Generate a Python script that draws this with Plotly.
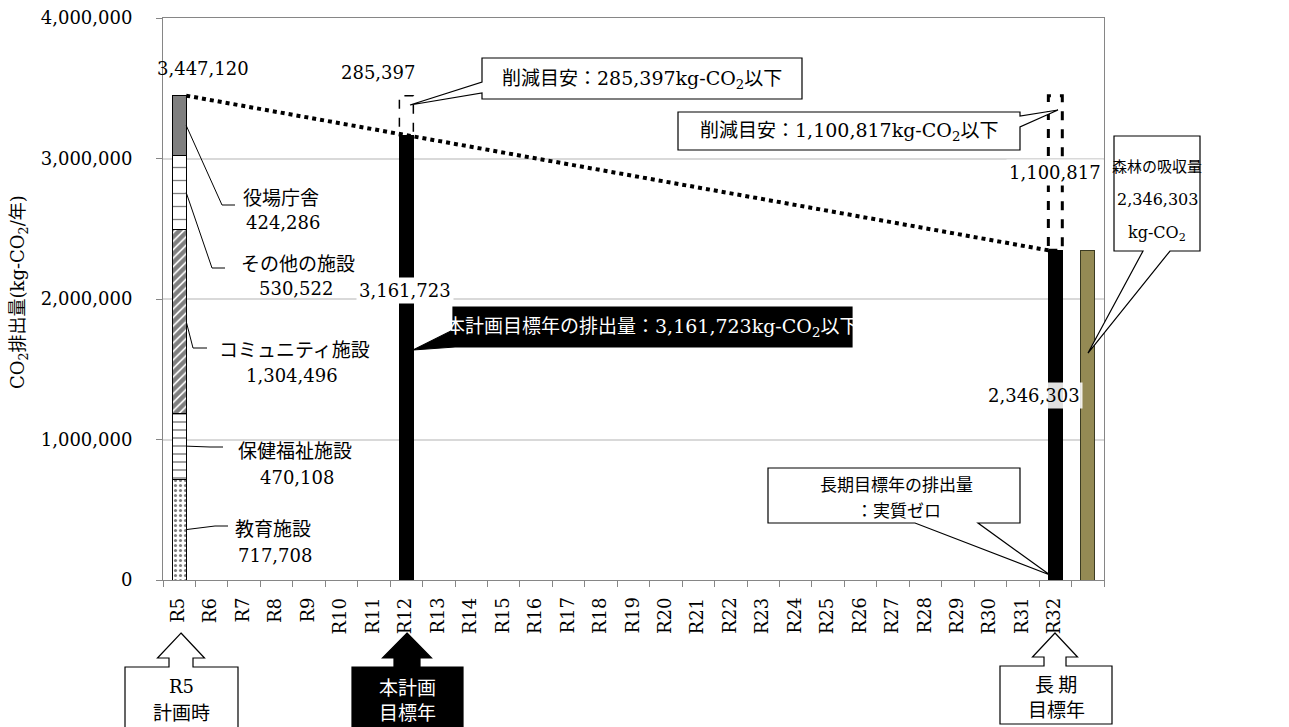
import plotly.graph_objects as go

# ---------------- data ----------------
categories = ["R5", "R6", "R7", "R8", "R9", "R10", "R11", "R12", "R13", "R14",
              "R15", "R16", "R17", "R18", "R19", "R20", "R21", "R22", "R23", "R24",
              "R25", "R26", "R27", "R28", "R29", "R30", "R31", "R32", " "]

facility_names = ["教育施設", "保健福祉施設", "コミュニティ施設", "その他の施設", "役場庁舎"]
facility_values = [717708, 470108, 1304496, 530522, 424286]
base_year = "R5"
base_total = 3447120

target_years = ["R12", "R32"]
target_values = [3161723, 2346303]
reduction_values = [285397, 1100817]

forest_category = " "
forest_value = 2346303

y_ticks = [0, 1000000, 2000000, 3000000, 4000000]
YMAX = 4000000

# ---------------- layout geometry (pixels) ----------------
W, H = 1289, 727
PL, PR, PT, PB = 163, 1104, 18, 580
NCAT = len(categories)
BAR_W = 0.43
HW = BAR_W / 2

NUM_FONT = "'DejaVu Serif', 'Noto Sans CJK JP', serif"
JP_FONT = "'Noto Sans CJK JP', 'DejaVu Serif', sans-serif"


def fx(px):
    return (px - PL) / (PR - PL)


def fy(py):
    return (PB - py) / (PB - PT)


def dx(px):
    return fx(px) * NCAT - 0.5


def dy(py):
    return fy(py) * YMAX


def fmt(v):
    return f"{v:,}"


fig = go.Figure()

patterns = [
    dict(shape=".", fgcolor="black", bgcolor="white", size=5, solidity=0.3),
    dict(shape="-", fgcolor="black", bgcolor="white", size=8, solidity=0.18),
    dict(shape="/", fgcolor="black", bgcolor="white", size=6, solidity=0.72),
    dict(shape="-", fgcolor="black", bgcolor="white", size=13, solidity=0.1),
    None,
]
for name, val, pat in zip(facility_names, facility_values, patterns):
    marker = dict(color="#7f7f7f" if pat is None else "white",
                  line=dict(color="black", width=1))
    if pat is not None:
        marker["pattern"] = pat
    fig.add_trace(go.Bar(x=[base_year], y=[val], name=name, marker=marker,
                         width=BAR_W, hoverinfo="name+y"))

fig.add_trace(go.Bar(x=target_years, y=target_values, name="目標排出量",
                     marker=dict(color="black", line=dict(color="black", width=1)),
                     width=BAR_W))
fig.add_trace(go.Bar(x=[forest_category], y=[forest_value], name="森林の吸収量",
                     marker=dict(color="#948A54", line=dict(color="#3b3b22", width=1)),
                     width=BAR_W))

shapes = []
annotations = []

# dotted trend line from base-year top to long-term target
i0 = categories.index(base_year)
i1 = categories.index(target_years[-1])
shapes.append(dict(type="line", xref="x", yref="y", x0=i0 + HW, y0=base_total,
                   x1=i1 - HW, y1=target_values[-1],
                   line=dict(color="black", width=4, dash="dot"), layer="above"))

# dashed reduction boxes
dash_w = [1.5, 3]
for yr, tv, rv, lw in zip(target_years, target_values, reduction_values, dash_w):
    idx = categories.index(yr)
    shapes.append(dict(type="rect", xref="x", yref="y", x0=idx - HW, x1=idx + HW,
                       y0=tv, y1=tv + rv, line=dict(color="black", width=lw, dash="dash"),
                       fillcolor="rgba(0,0,0,0)", layer="above"))

# leader lines for facility labels
elbows = [(215, 526, 228), (210, 447, 223), (193, 348, 207), (212, 268, 225), (222, 205, 235)]
cum = 0
for val, (ex, ey, endx) in zip(facility_values, elbows):
    mid = cum + val / 2
    cum += val
    shapes.append(dict(type="line", xref="x", yref="y", x0=i0 + HW, y0=mid,
                       x1=dx(ex), y1=dy(ey), line=dict(color="black", width=1)))
    shapes.append(dict(type="line", xref="x", yref="y", x0=dx(ex), y0=dy(ey),
                       x1=dx(endx), y1=dy(ey), line=dict(color="black", width=1)))


def poly(points, fill, lw=1.2):
    d = "M " + " L ".join(f"{fx(x):.5f},{fy(y):.5f}" for x, y in points) + " Z"
    shapes.append(dict(type="path", xref="paper", yref="paper", path=d,
                       fillcolor=fill, line=dict(color="black", width=lw), layer="above"))


def text(px, py, s, size=18, color="black", family=NUM_FONT, bg=None, xanchor="center"):
    a = dict(x=fx(px), y=fy(py), xref="paper", yref="paper", text=s, showarrow=False,
             xanchor=xanchor, yanchor="middle",
             font=dict(size=size, color=color, family=family))
    if bg:
        a["bgcolor"] = bg
        a["borderpad"] = 2
    annotations.append(a)


# rotated category labels (drawn at each category position)
for c in categories:
    if c.strip():
        annotations.append(dict(x=c, y=fy(596), xref="x", yref="paper", text=c,
                                textangle=-90, showarrow=False, xanchor="center",
                                yanchor="top", xshift=-2,
                                font=dict(size=18, family=NUM_FONT, color="black")))

# callout boxes
poly([(482, 58), (802, 58), (802, 99), (482, 99), (482, 93), (410, 105), (482, 82)], "white")
text(642, 79, f"削減目安：{fmt(reduction_values[0])}kg-CO<sub>2</sub>以下", size=19)

poly([(678, 112), (1020, 112), (1020, 116), (1058, 110), (1020, 127), (1020, 150), (678, 150)], "white")
text(849, 131, f"削減目安：{fmt(reduction_values[1])}kg-CO<sub>2</sub>以下", size=19)

poly([(453, 307), (852, 307), (852, 347), (455, 347), (413, 350), (453, 330)], "black")
text(652, 327, f"本計画目標年の排出量：{fmt(target_values[0])}kg-CO<sub>2</sub>以下", size=19, color="white")

poly([(768, 468), (1020, 468), (1020, 523), (978, 523), (1050, 575), (915, 523), (768, 523)], "white")
text(896, 483, "長期目標年の排出量", size=17, family=JP_FONT)
text(898, 509, "：実質ゼロ", size=17, family=JP_FONT)

poly([(1114, 136), (1200, 136), (1200, 251), (1170, 251), (1088, 353), (1143, 251), (1114, 251)], "white")
text(1157, 165, "森林の吸収量", size=15, family=JP_FONT)
text(1157, 200, fmt(forest_value), size=16)
text(1157, 233, "kg-CO<sub>2</sub>", size=16)


# bottom block arrows
def arrow(cx, tip, hh, hb, sh, bt, bl, br, bb, fill):
    poly([(cx, tip), (cx + hh, hb), (cx + sh, hb), (cx + sh, bt), (br, bt), (br, bb),
          (bl, bb), (bl, bt), (cx - sh, bt), (cx - sh, hb), (cx - hh, hb)], fill)


arrow(181, 633, 23.5, 658, 12, 667, 125, 238, 745, "white")
text(181, 686, "R5", size=18)
text(181, 711, "計画時", size=19, family=JP_FONT)

arrow(407, 633, 24.5, 658, 13, 667, 352, 463, 745, "black")
text(407, 686, "本計画", size=19, color="white", family=JP_FONT)
text(407, 711, "目標年", size=19, color="white", family=JP_FONT)

arrow(1055, 633, 22.5, 657, 11, 666, 1000, 1112, 724, "white")
text(1056, 683, "長 期", size=19, family=JP_FONT)
text(1056, 708, "目標年", size=19, family=JP_FONT)

# value labels
text(203, 68, fmt(base_total))
text(378, 73, fmt(reduction_values[0]))
text(405, 290, fmt(target_values[0]), bg="white")
text(1055, 173, fmt(reduction_values[1]), bg="white")
text(1034, 395, fmt(target_values[1]), bg="rgba(255,255,255,0.88)")

# facility labels
fac_pos = [((273, 527), (275, 555)), ((295, 449), (297, 477)), ((294, 348), (292, 375)),
           ((298, 262), (296, 289)), ((281, 196), (283, 222))]
for name, val, (p1, p2) in zip(facility_names, facility_values, fac_pos):
    text(p1[0], p1[1], name, size=19, family=JP_FONT)
    text(p2[0], p2[1], fmt(val))

# y-axis title
annotations.append(dict(x=fx(19), y=fy(292), xref="paper", yref="paper",
                        text="CO<sub>2</sub>排出量(kg-CO<sub>2</sub>/年)", textangle=-90,
                        showarrow=False, xanchor="center", yanchor="middle",
                        font=dict(size=18, family=NUM_FONT, color="black")))

fig.update_layout(
    width=W, height=H,
    margin=dict(l=PL, r=W - PR, t=PT, b=H - PB, autoexpand=False),
    barmode="stack",
    showlegend=False,
    plot_bgcolor="white",
    paper_bgcolor="white",
    shapes=shapes,
    annotations=annotations,
    font=dict(family=NUM_FONT, color="black"),
    xaxis=dict(type="category", categoryorder="array", categoryarray=categories,
               range=[-0.5, NCAT - 0.5], tickson="boundaries", ticks="outside",
               ticklen=6, tickcolor="#868686", showline=True, linecolor="#868686",
               mirror=True, showticklabels=False, showgrid=False, automargin=False),
    yaxis=dict(range=[0, YMAX], tickvals=y_ticks, tickformat=",d",
               showgrid=True, gridcolor="#d9d9d9", gridwidth=1.5, zeroline=False,
               showline=True, linecolor="#868686", mirror=True, ticks="outside",
               ticklen=6, tickcolor="#868686", automargin=False,
               ticklabelstandoff=20,
               tickfont=dict(size=18, family=NUM_FONT, color="black")),
)

fig.write_html("out.html")
